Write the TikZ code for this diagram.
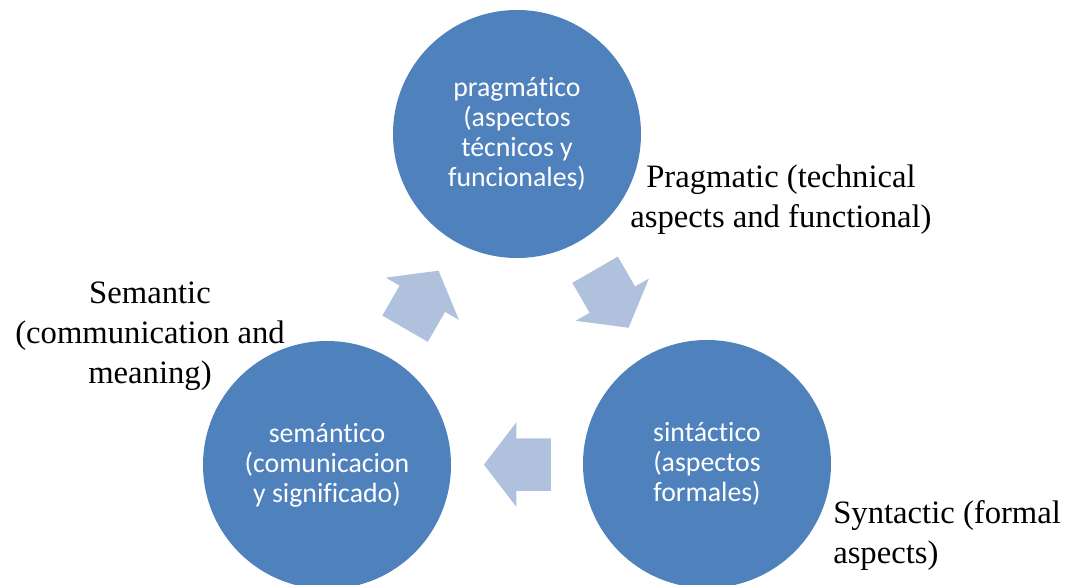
\documentclass[tikz,border=0pt]{standalone}
\usepackage{fontspec}
\setmainfont{Liberation Serif}
\newfontfamily\calfont[Ligatures=NoCommon]{Carlito}
\usepackage{tikz}
\usetikzlibrary{calc,positioning,shapes.arrows}
\definecolor{cyclebl}{HTML}{4F81BD}
\definecolor{arrowbl}{HTML}{B0C1DE}
\tikzset{stage/.style={circle,fill=cyclebl,minimum size=186pt,inner
sep=0pt,text=white,align=center,font=\calfont\fontsize{20.85}{22.5}\selectfont},
        cyclearrow/.style={
            single arrow,
            fill=arrowbl,
            minimum height=50.25pt,
            minimum width=63pt,
            single arrow head extend=12pt,
            single arrow tip angle=105,
            inner xsep=0pt,
            inner ysep=19.5pt,
            anchor=tip,
            rotate=#1},
        gloss/.style={align=center,inner sep=0pt,font=\fontsize{24.5}{30}\selectfont}
        }

\begin{document}
\begin{tikzpicture}[x=0.75pt,y=0.75pt]
		\useasboundingbox (0,0) rectangle (1067,-585);

		\node[stage] (prag) at (517,-134) {pragmático\\(aspectos\\técnicos y\\funcionales)};
		\node[stage] (sem) at (327,-465) {semántico\\(comunicacion\\y significado)};
		\node[stage] (sint) at (707,-464) {sintáctico\\(aspectos\\formales)};

		\node[cyclearrow=60] (a1) at ($(sem)!0.588!(prag)$) {};
		\node[cyclearrow=-60] (a2) at ($(prag)!0.588!(sint)$) {};
		\node[cyclearrow=180] (a3) at ($(sint)!0.588!(sem)$) {};

		% anchor=base sits on the last line
		\node[gloss,anchor=base] (pragnote) at (781,-227) {Pragmatic (technical\\aspects and functional)};
		\node[gloss,anchor=base] (semnote) at (150,-383) {Semantic\\(communication and\\meaning)};
		\node[gloss,align=left,anchor=base west] (sintnote) at (833,-563) {Syntactic (formal\\aspects)};
	\end{tikzpicture}
\end{document}
